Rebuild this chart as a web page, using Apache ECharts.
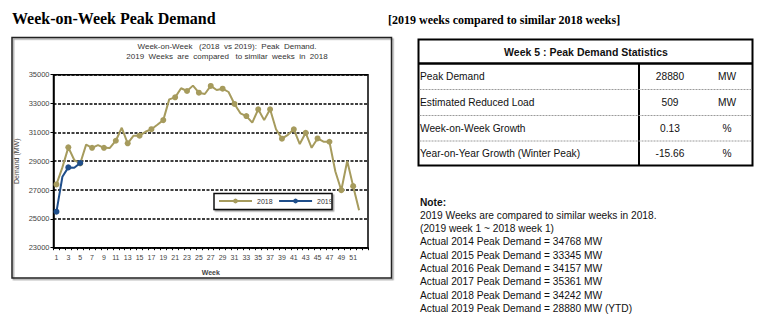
<!DOCTYPE html>
<html>
<head>
<meta charset="utf-8">
<title>Week-on-Week Peak Demand</title>
<script src="https://cdn.jsdelivr.net/npm/echarts@6/dist/echarts.min.js"></script>
<style>
  html, body { margin: 0; padding: 0; background: #fff; }
  #main { width: 768px; height: 328px; }
</style>
</head>
<body>
<div id="main"></div>
<script>
// Weeks on the category axis (one spare slot after week 52)
const weeks = Array.from({ length: 53 }, (_, i) => String(i + 1));

// Weekly peak demand, MW
const demand2018 = [
  27390, 28570, 29960, 29080, 28840, 30150, 29930, 30120, 29930, 29920,
  30420, 31320, 30240, 30770, 30770, 31040, 31220, 31530, 31850, 33290,
  33430, 34060, 33870, 34242, 33750, 33660, 34220, 33940, 34030, 33800,
  32970, 32320, 32130, 31680, 32600, 31850, 32600, 31210, 30560, 30830,
  31210, 30190, 30970, 29930, 30580, 30350, 30350, 28290, 26990, 29010,
  27270, 25600
];
const demand2019 = [25500, 27920, 28570, 28540, 28880];

const seriesNames = ['2018', '2019'];

// Statistics table
const statsTitle = 'Week 5 : Peak Demand Statistics';
const statsLabels = ['Peak Demand', 'Estimated Reduced Load', 'Week-on-Week Growth', 'Year-on-Year Growth (Winter Peak)'];
const statsValues = ['28880', '509', '0.13', '-15.66'];
const statsUnits = ['MW', 'MW', '%', '%'];

// Notes under the table
const noteLines = [
  '2019 Weeks are compared to similar weeks in 2018.',
  '(2019 week 1 ~ 2018 week 1)',
  'Actual 2014 Peak Demand = 34768 MW',
  'Actual 2015 Peak Demand = 33345 MW',
  'Actual 2016 Peak Demand = 34157 MW',
  'Actual 2017 Peak Demand = 35361 MW',
  'Actual 2018 Peak Demand = 34242 MW',
  'Actual 2019 Peak Demand = 28880 MW (YTD)'
];

const SANS = '"Liberation Sans", Arial, sans-serif';
const SERIF = '"Liberation Serif", "Times New Roman", serif';
const GOLD = '#a69b5d';
const BLUE = '#1f4e8a';

function txt(x, y, text, font, align, color) {
  return {
    type: 'text', x: x, y: y, z: 10,
    style: {
      text: text, font: font, fill: color || '#000',
      textAlign: align || 'left', textVerticalAlign: 'middle', verticalAlign: 'middle'
    }
  };
}
function line(x1, y1, x2, y2, color, width, dash) {
  return {
    type: 'line', z: 9,
    shape: { x1: x1, y1: y1, x2: x2, y2: y2 },
    style: { stroke: color, lineWidth: width, lineDash: dash || null }
  };
}
function box(x, y, w, h, stroke, width, fill, z, shadow) {
  const s = { fill: fill || 'none', stroke: stroke, lineWidth: width };
  if (shadow) {
    s.shadowColor = 'rgba(0,0,0,0.35)';
    s.shadowOffsetX = 1.5;
    s.shadowOffsetY = 1.5;
    s.shadowBlur = 0;
  }
  return { type: 'rect', z: z || 8, shape: { x: x, y: y, width: w, height: h }, style: s };
}

const graphics = [];

// Page headings
graphics.push(txt(12, 18, 'Week-on-Week Peak Demand', 'bold 16px ' + SERIF));
graphics.push(txt(388, 19.5, '[2019 weeks compared to similar 2018 weeks]', 'bold 12px ' + SERIF));

// Chart frame and its two-line title
graphics.push(box(12, 37.5, 379.5, 240.5, '#222', 1.5, 'none', 1, true));
graphics.push(txt(227, 46, 'Week-on-Week   (2018  vs 2019):  Peak  Demand.', '8px ' + SANS, 'center', '#333'));
graphics.push(txt(227, 56, '2019  Weeks  are  compared   to similar  weeks  in  2018', '8px ' + SANS, 'center', '#333'));

// Legend frame
graphics.push(box(214, 193.5, 118, 16, '#111', 1.5, '#fff', 3, true));

// Statistics table
const tX = 418.5, tY = 39.5, tW = 334, tH = 126;
const divX = 639, headBottom = 63.5;
const rowEdges = [headBottom, 89.5, 115.5, 141, tY + tH];
graphics.push(box(tX, tY, tW, tH, '#000', 2, 'none', 9));
graphics.push(line(tX, headBottom, tX + tW, headBottom, '#000', 2.5));
graphics.push(line(divX, headBottom, divX, tY + tH, '#000', 2));
for (let i = 1; i < rowEdges.length - 1; i++) {
  graphics.push(line(tX + 1, rowEdges[i], tX + tW - 1, rowEdges[i], '#9a9a9a', 1, [2, 1]));
}
graphics.push(txt(586, 51.5, statsTitle, 'bold 10.5px ' + SANS, 'center', '#111'));
statsLabels.forEach(function (lab, i) {
  const cy = (rowEdges[i] + rowEdges[i + 1]) / 2;
  graphics.push(txt(420, cy, lab, '10.2px ' + SANS, 'left', '#111'));
  graphics.push(txt(670, cy, statsValues[i], '10.2px ' + SANS, 'center', '#111'));
  graphics.push(txt(727, cy, statsUnits[i], '10.2px ' + SANS, 'center', '#111'));
});

// Notes
graphics.push(txt(420, 202, 'Note:', 'bold 10.2px ' + SANS, 'left', '#111'));
noteLines.forEach(function (t, i) {
  graphics.push(txt(420, 215.3 + i * 13.3, t, '10.2px ' + SANS, 'left', '#111'));
});

const chart = echarts.init(document.getElementById('main'), null, { renderer: 'svg' });
chart.setOption({
  animation: false,
  backgroundColor: '#fff',
  grid: {
    left: 53.5, top: 74.7, width: 314.5, height: 173,
    show: true, borderColor: '#000', borderWidth: 1.5, backgroundColor: 'transparent'
  },
  legend: {
    data: seriesNames,
    left: 218, top: 197.5,
    itemWidth: 33, itemHeight: 6, itemGap: 5.5,
    padding: 0,
    textStyle: { fontSize: 7, fontFamily: SANS, color: '#333' },
    z: 5
  },
  xAxis: {
    type: 'category',
    data: weeks,
    boundaryGap: true,
    name: 'Week',
    nameLocation: 'middle',
    nameGap: 21.5,
    nameTextStyle: { fontSize: 7, fontFamily: SANS, color: '#444', fontWeight: 'bold' },
    axisLine: { lineStyle: { color: '#000', width: 1.5 } },
    axisTick: { show: true, interval: 0, length: 2.5, lineStyle: { color: '#000' } },
    axisLabel: {
      interval: function (idx) { return idx % 2 === 0 && idx < 52; },
      fontSize: 7, fontFamily: SANS, color: '#444', margin: 6
    },
    splitLine: { show: false }
  },
  yAxis: {
    type: 'value',
    min: 23000, max: 35000, interval: 2000,
    name: 'Demand (MW)',
    nameLocation: 'middle',
    nameGap: 34,
    nameTextStyle: { fontSize: 7, fontFamily: SANS, color: '#444' },
    axisLine: { show: true, lineStyle: { color: '#000', width: 1.5 } },
    axisTick: { show: true, length: 3, lineStyle: { color: '#000' } },
    axisLabel: {
      fontSize: 7.5, fontFamily: SANS, color: '#444', margin: 4,
      formatter: function (v) { return String(v); }
    },
    splitLine: { show: true, lineStyle: { color: '#000', width: 1.5, type: [3, 1.5] } }
  },
  series: [
    {
      name: seriesNames[0], type: 'line', data: demand2018,
      symbol: 'circle', symbolSize: 6, showSymbol: true,
      itemStyle: { color: GOLD }, lineStyle: { color: GOLD, width: 2 },
      z: 3
    },
    {
      name: seriesNames[1], type: 'line', data: demand2019,
      symbol: 'circle', symbolSize: 6, showSymbol: true,
      itemStyle: { color: BLUE }, lineStyle: { color: BLUE, width: 2 },
      z: 4
    }
  ],
  graphic: graphics
});
</script>
</body>
</html>
